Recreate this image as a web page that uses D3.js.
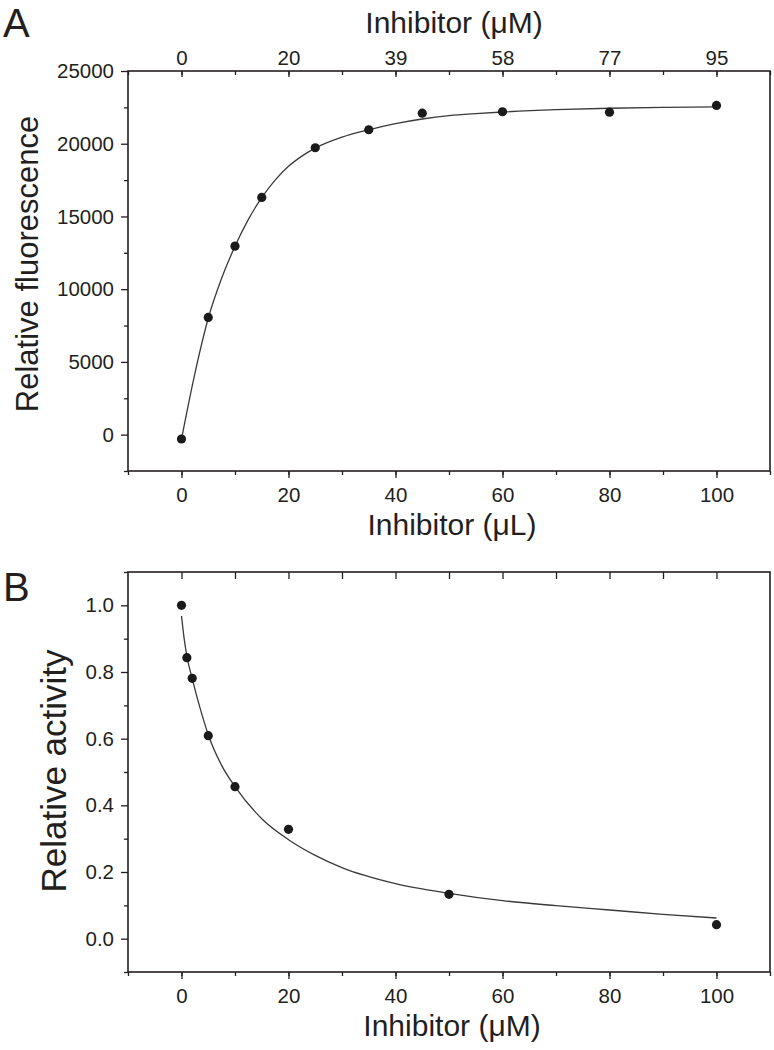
<!DOCTYPE html>
<html lang="en">
<head>
<meta charset="utf-8">
<title>Inhibitor titration</title>
<script src="https://d3js.org/d3.v7.min.js"></script>
<style>
  body { margin: 0; background: #fff; }
  svg text { font-family: "Liberation Sans", Arial, Helvetica, sans-serif; fill: #231f20; }
</style>
</head>
<body>
<script>
// panel A: fluorescence vs inhibitor volume
var doseA = [0, 5, 10, 15, 25, 35, 45, 60, 80, 100];
var fluorA = [-300, 8060, 12960, 16310, 19725, 20960, 22100, 22200, 22170, 22630];
// fitted curve
var fitXA = [0, 2.5, 5, 7.5, 10, 12.5, 15, 17.5, 20, 22.5, 25, 30, 35, 40, 45, 50, 55, 60, 70, 80, 90, 100];
var fitYA = [-300, 4200, 8000, 10750, 12950, 14800, 16300, 17500, 18450, 19150, 19700, 20450, 20960, 21380, 21700, 21930, 22070, 22180, 22340, 22440, 22500, 22540];
var xTicksA = [0, 20, 40, 60, 80, 100];
var topLabelsA = ["0", "20", "39", "58", "77", "95"];
var yTicksA = [0, 5000, 10000, 15000, 20000, 25000];

// panel B: relative activity vs inhibitor concentration
var concB = [0, 1, 2, 5, 10, 20, 50, 100];
var actB = [1.0, 0.843, 0.781, 0.609, 0.456, 0.328, 0.133, 0.042];
var fitXB = [0, 0.5, 1, 2, 3.5, 5, 7.5, 10, 15, 20, 25, 30, 40, 50, 60, 70, 80, 90, 100];
var fitYB = [0.968, 0.900, 0.848, 0.780, 0.690, 0.612, 0.520, 0.456, 0.360, 0.297, 0.250, 0.213, 0.165, 0.136, 0.114, 0.099, 0.086, 0.073, 0.062];
var yTicksB = [0.0, 0.2, 0.4, 0.6, 0.8, 1.0];

var w = 774, h = 1050;
var left = 128, right = 770;
var ink = "#231f20";

var svg = d3.select("body").append("svg")
    .attr("width", w)
    .attr("height", h);

function range(a, b, step) {
  var out = [];
  for (var v = a; v <= b + 1e-9; v += step) out.push(+v.toFixed(6));
  return out;
}

function panel(opt) {
  var g = svg.append("g");
  var x = d3.scaleLinear().domain([-10, 110]).range([left, right]);
  var y = d3.scaleLinear().domain(opt.yDomain).range([opt.bottom, opt.top]);

  // minor ticks (no labels)
  g.append("g")
    .attr("transform", `translate(${left},0)`)
    .call(d3.axisLeft(y).tickValues(opt.yMinor).tickSize(4).tickFormat(""));
  g.append("g")
    .attr("transform", `translate(0,${opt.bottom})`)
    .call(d3.axisBottom(x).tickValues(range(-10, 110, 10)).tickSize(4).tickFormat(""));

  // major ticks
  g.append("g")
    .attr("transform", `translate(${left},0)`)
    .call(d3.axisLeft(y).tickValues(opt.yTicks).tickSize(7).tickPadding(7).tickFormat(opt.yFormat));
  g.append("g")
    .attr("transform", `translate(0,${opt.bottom})`)
    .call(d3.axisBottom(x).tickValues(xTicksA).tickSize(7).tickPadding(9));

  // top axis (ticks point inward)
  if (opt.topLabels) {
    g.append("g")
      .attr("transform", `translate(0,${opt.top})`)
      .call(d3.axisTop(x).tickValues(range(-10, 110, 10)).tickSize(-4).tickFormat(""));
    g.append("g")
      .attr("transform", `translate(0,${opt.top})`)
      .call(d3.axisTop(x).tickValues(xTicksA).tickSize(-6).tickPadding(6)
        .tickFormat(function(d, i) { return opt.topLabels[i]; }));
  } else {
    g.append("g")
      .attr("transform", `translate(0,${opt.top})`)
      .call(d3.axisTop(x).tickValues(range(0, 100, 10)).tickSize(-7).tickFormat(""));
  }

  g.selectAll(".domain").remove();
  g.selectAll(".tick line").attr("stroke", ink).attr("stroke-width", 1.3);
  g.selectAll(".tick text").attr("font-size", 20.5).attr("fill", ink);

  // frame
  g.append("rect")
    .attr("x", left).attr("y", opt.top)
    .attr("width", right - left).attr("height", opt.bottom - opt.top)
    .attr("fill", "none").attr("stroke", ink).attr("stroke-width", 1.6);

  // fitted curve
  var line = d3.line()
    .x(function(d) { return x(d[0]); })
    .y(function(d) { return y(d[1]); })
    .curve(d3.curveMonotoneX);
  g.append("path")
    .datum(opt.fitX.map(function(v, i) { return [v, opt.fitY[i]]; }))
    .attr("d", line)
    .attr("fill", "none")
    .attr("stroke", "#3a3a3a")
    .attr("stroke-width", 1.3);

  // data points
  g.selectAll("circle.pt")
    .data(opt.xs.map(function(v, i) { return [v, opt.ys[i]]; }))
    .enter().append("circle")
    .attr("class", "pt")
    .attr("cx", function(d) { return x(d[0]); })
    .attr("cy", function(d) { return y(d[1]); })
    .attr("r", 4.6)
    .attr("fill", "#1a1a1a");

  // labels
  var cx = (left + right) / 2 + 3;
  g.append("text")
    .attr("x", cx).attr("y", opt.bottom + 64)
    .attr("text-anchor", "middle")
    .attr("font-size", 30)
    .text(opt.xTitle);
  g.append("text")
    .attr("transform", `translate(${opt.yTitleX},${opt.yTitleY}) rotate(-90)`)
    .attr("text-anchor", "middle")
    .attr("font-size", opt.yTitleSize)
    .text(opt.yTitle);
  g.append("text")
    .attr("x", 3).attr("y", opt.letterY)
    .attr("font-size", 40)
    .text(opt.letter);
  return g;
}

panel({
  top: 71, bottom: 471,
  yDomain: [-2500, 25000],
  yTicks: yTicksA,
  yMinor: range(-2500, 22500, 5000),
  yFormat: d3.format("d"),
  topLabels: topLabelsA,
  fitX: fitXA, fitY: fitYA,
  xs: doseA, ys: fluorA,
  xTitle: "Inhibitor (\u03bcL)",
  yTitle: "Relative fluorescence",
  yTitleX: 38, yTitleY: 264, yTitleSize: 31,
  letter: "A", letterY: 37
});

// top title of panel A
svg.append("text")
  .attr("x", (left + right) / 2 + 5).attr("y", 33)
  .attr("text-anchor", "middle")
  .attr("font-size", 30)
  .text("Inhibitor (\u03bcM)");

panel({
  top: 572, bottom: 972,
  yDomain: [-0.1, 1.1],
  yTicks: yTicksB,
  yMinor: range(-0.1, 1.1, 0.2),
  yFormat: d3.format(".1f"),
  topLabels: null,
  fitX: fitXB, fitY: fitYB,
  xs: concB, ys: actB,
  xTitle: "Inhibitor (\u03bcM)",
  yTitle: "Relative activity",
  yTitleX: 66, yTitleY: 771, yTitleSize: 35,
  letter: "B", letterY: 601
});
</script>
</body>
</html>
